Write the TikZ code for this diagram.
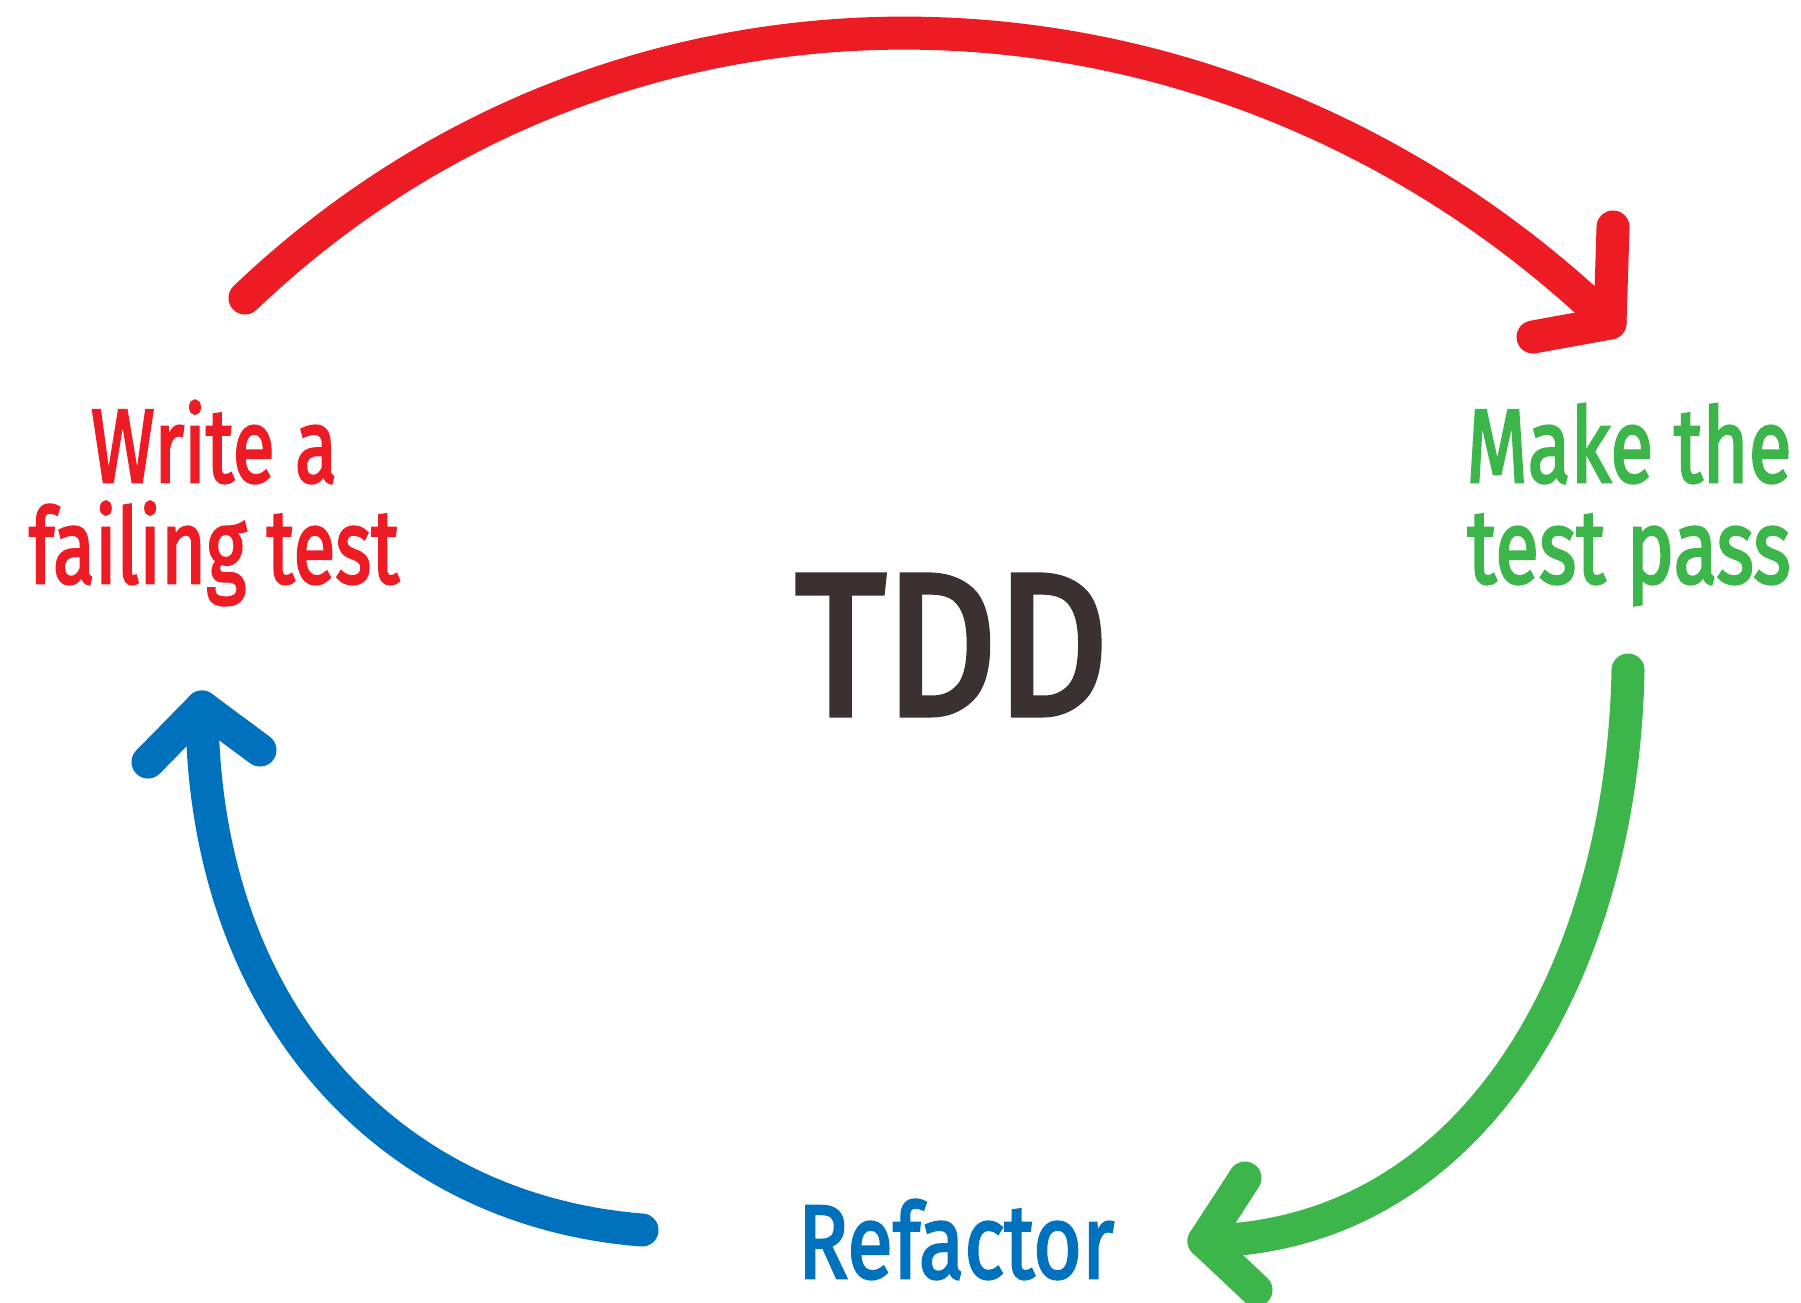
\documentclass[tikz,border=0pt]{standalone}
\usepackage{fontspec}
\setmainfont{Fira Sans}
\newfontfamily\handfont{Fira Sans}[FakeBold=2.6]
\newfontfamily\tddfont{Fira Sans}[FakeBold=3.5]
\definecolor{tddred}{HTML}{ED1C24}
\definecolor{tddgreen}{HTML}{3CB54A}
\definecolor{tddblue}{HTML}{0071BC}
\definecolor{tdddark}{HTML}{3A3130}
\newcommand{\fitw}[2]{\resizebox{#1}{\height}{#2}}
\begin{document}
\begin{tikzpicture}[x=0.01cm,y=-0.01cm,
  stroke/.style={line width=0.33cm, line cap=round, line join=round},
  steplabel/.style={inner sep=0, align=center, font=\handfont\fontsize{29.7}{28.7}\selectfont, anchor=base},
]
\useasboundingbox[fill=white] (0,0) rectangle (1801,1302);
% labels (base = baseline of the last line)
\node[steplabel, text=tddred] (write) at (214,583) {\fitw{2.46cm}{Write a}\\\fitw{3.70cm}{failing test}};
\node[steplabel, text=tddgreen] (make) at (1629,583) {\fitw{3.25cm}{Make the}\\\fitw{3.23cm}{test pass}};
\node[steplabel, text=tddblue] (refactor) at (956,1278) {\fitw{3.16cm}{Refactor}};
\node[inner sep=0, anchor=base, text=tdddark, font=\tddfont\fontsize{57}{60}\selectfont] (tdd) at (952,714) {\fitw{3.12cm}{TDD}};
% red arrow
\coordinate (r0) at (245,298);
\coordinate (r1) at (1610,323);
\coordinate (ra) at (1613,227);
\coordinate (rb) at (1533,337);
\draw[stroke, tddred] (r0) .. controls (630,-70) and (1225,-48) .. (r1);
\draw[stroke, tddred] (ra) -- (r1) -- (rb);
% green arrow
\coordinate (g0) at (1628,670);
\coordinate (g1) at (1204,1241);
\coordinate (ga) at (1245,1178);
\coordinate (gb) at (1256,1290);
\draw[stroke, tddgreen] (g0) .. controls (1622,975) and (1470,1238) .. (g1);
\draw[stroke, tddgreen] (ga) -- (g1) -- (gb);
% blue arrow
\coordinate (b0) at (642,1230);
\coordinate (b1) at (202,707);
\coordinate (ba) at (148,762);
\coordinate (bb) at (260,750);
\draw[stroke, tddblue] (b0) .. controls (387,1210) and (202,1009) .. (b1);
\draw[stroke, tddblue] (ba) -- (b1) -- (bb);
\end{tikzpicture}
\end{document}
